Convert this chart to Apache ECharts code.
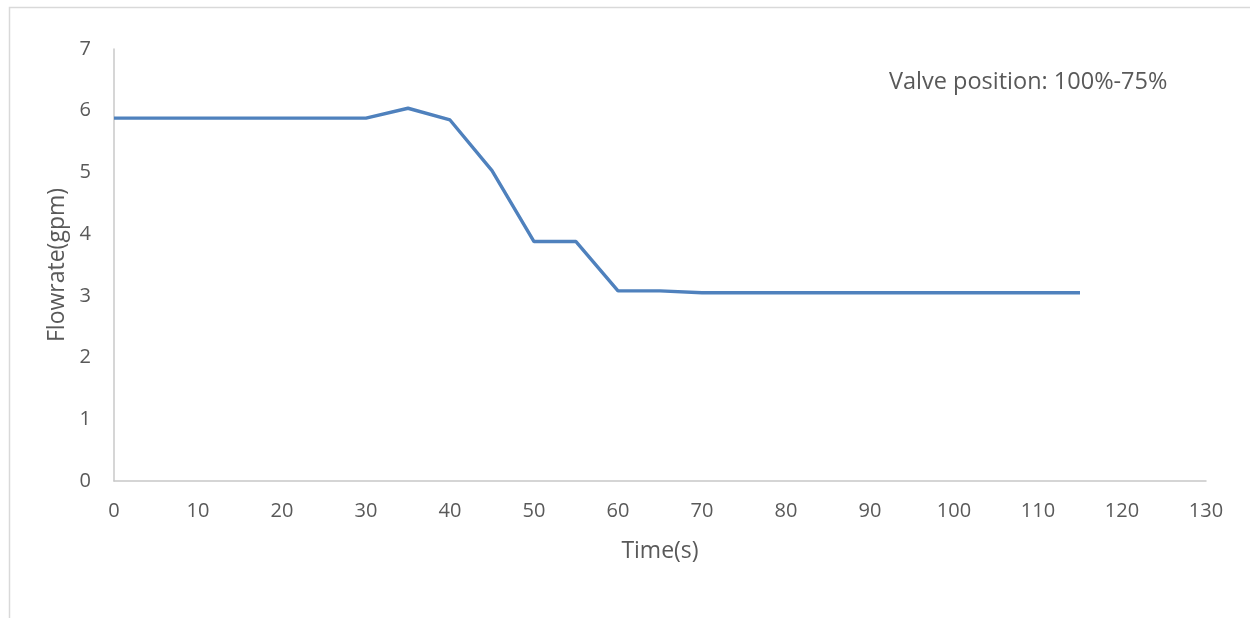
<!DOCTYPE html>
<html>
<head>
<meta charset="utf-8">
<script src="https://cdn.jsdelivr.net/npm/echarts@6/dist/echarts.min.js"></script>
<style>html,body{margin:0;padding:0;background:#fff;}#c{width:1250px;height:618px;}</style>
</head>
<body>
<div id="c"></div>
<script>
const timeS = [0,5,10,15,20,25,30,35,40,45,50,55,60,65,70,75,80,85,90,95,100,105,110,115];
const flowGpm = [5.88,5.88,5.88,5.88,5.88,5.88,5.88,6.04,5.85,5.03,3.88,3.88,3.08,3.08,3.05,3.05,3.05,3.05,3.05,3.05,3.05,3.05,3.05,3.05];
const xAxisTitle = 'Time(s)';
const yAxisTitle = 'Flowrate(gpm)';
const note = 'Valve position: 100%-75%';

const FONT = '"Open Sans", sans-serif';
const chart = echarts.init(document.getElementById('c'));
chart.setOption({
  animation: false,
  backgroundColor: '#fff',
  grid: {left: 114, right: 44, top: 49, bottom: 137},
  xAxis: {
    type: 'value', min: 0, max: 130, interval: 10,
    name: xAxisTitle, nameLocation: 'middle', nameGap: 59,
    nameTextStyle: {color: '#595959', fontSize: 23, fontFamily: FONT},
    axisLine: {show: true, lineStyle: {color: '#c8c8c8', width: 1.5}},
    axisTick: {show: false},
    splitLine: {show: false},
    axisLabel: {color: '#595959', fontSize: 20, fontFamily: FONT, margin: 20}
  },
  yAxis: {
    type: 'value', min: 0, max: 7, interval: 1,
    name: yAxisTitle, nameLocation: 'middle', nameGap: 44,
    nameTextStyle: {color: '#595959', fontSize: 23, fontFamily: FONT},
    axisLine: {show: true, lineStyle: {color: '#c8c8c8', width: 1.5}},
    axisTick: {show: false},
    splitLine: {show: false},
    axisLabel: {color: '#595959', fontSize: 20, fontFamily: FONT, margin: 23}
  },
  graphic: [
    {type: 'rect', left: 7, top: 5, shape: {width: 1270, height: 640}, style: {fill: 'none', stroke: '#d9d9d9', lineWidth: 1.5}, silent: true},
    {type: 'text', left: 889, top: 70, style: {text: note, fill: '#595959', fontSize: 23.5, fontFamily: FONT}}
  ],
  series: [{
    type: 'line',
    data: timeS.map((t, i) => [t, flowGpm[i]]),
    showSymbol: false,
    lineStyle: {color: '#4f81bd', width: 3.4},
    itemStyle: {color: '#4f81bd'}
  }]
});
</script>
</body>
</html>
